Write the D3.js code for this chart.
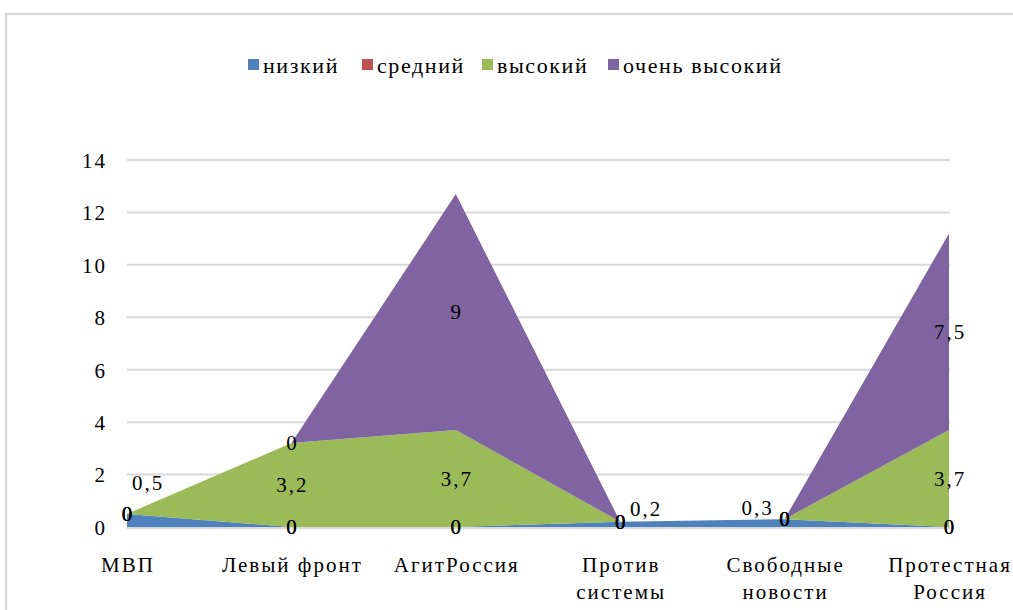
<!DOCTYPE html>
<html>
<head>
<meta charset="utf-8">
<script src="https://cdn.jsdelivr.net/npm/d3@7"></script>
<style>
  body { margin: 0; background: #fff; }
</style>
</head>
<body>
<svg id="chart" width="1013" height="610"></svg>
<script>
// Categories (multi-line labels split by "|")
const categories = ["МВП", "Левый фронт", "АгитРоссия", "Против|системы", "Свободные|новости", "Протестная|Россия"];
const seriesNames = ["низкий", "средний", "высокий", "очень высокий"];
const seriesColors = ["#4F81BD", "#C0504D", "#9BBB59", "#8064A2"];

const low = [0.5, 0, 0, 0.2, 0.3, 0];
const mid = [0, 0, 0, 0, 0, 0];
const high = [0, 3.2, 3.7, 0, 0, 3.7];
const veryHigh = [0, 0, 9, 0, 0, 7.5];
const seriesValues = [low, mid, high, veryHigh];

const yTicks = [0, 2, 4, 6, 8, 10, 12, 14];

const FONT = "Liberation Serif";
const FSIZE = 21;
const SPACING = 2;

// Build table for the stack
const table = categories.map((c, i) => {
  let row = { cat: c };
  seriesNames.forEach((s, k) => row[s] = seriesValues[k][i]);
  return row;
});

const svg = d3.select("#chart");

// Outer chart border (cropped at right/bottom)
svg.append("rect")
  .attr("x", 6).attr("y", 14)
  .attr("width", 1020).attr("height", 620)
  .attr("fill", "none")
  .attr("stroke", "#d9d9d9")
  .attr("stroke-width", 2.5);

const x = d3.scalePoint()
  .domain(categories)
  .range([127, 949])
  .padding(0);

const y = d3.scaleLinear()
  .domain([0, 14])
  .range([527, 160]);

// Gridlines
svg.append("g")
  .selectAll("line")
  .data(yTicks)
  .join("line")
    .attr("x1", 127).attr("x2", 950)
    .attr("y1", d => y(d)).attr("y2", d => y(d))
    .attr("stroke", "#d9d9d9")
    .attr("stroke-width", 2);

// Y axis labels
const yAxis = svg.append("g")
  .attr("transform", "translate(107,0)")
  .call(d3.axisLeft(y).tickValues(yTicks).tickSize(0).tickPadding(0));
yAxis.select(".domain").remove();
yAxis.attr("font-family", FONT).attr("font-size", FSIZE);
yAxis.selectAll("text")
  .attr("fill", "#000")
  .attr("letter-spacing", SPACING)
  .attr("dy", "0.35em");

// Stacked areas
const stack = d3.stack().keys(seriesNames);
const layers = stack(table);

const area = d3.area()
  .x(d => x(d.data.cat))
  .y0(d => y(d[0]))
  .y1(d => y(d[1]));

svg.append("g")
  .selectAll("path")
  .data(layers)
  .join("path")
    .attr("d", area)
    .attr("fill", (d, i) => seriesColors[i]);

// Baseline
svg.append("line")
  .attr("x1", 127).attr("x2", 950)
  .attr("y1", y(0) + 1).attr("y2", y(0) + 1)
  .attr("stroke", "#d9d9d9")
  .attr("stroke-width", 2);

// Manually moved labels (series index|category index -> [dx, dy])
const labelShift = {
  "0|0": [20, -38],
  "0|3": [25, -16],
  "0|4": [-28, -15]
};

const fmt = v => String(v).replace(".", ",");
const labelData = [];
layers.forEach((layer, si) => {
  layer.forEach((d, ci) => {
    const sh = labelShift[`${si}|${ci}`] || [0, 0];
    labelData.push({
      x: x(d.data.cat) + sh[0] + SPACING / 2,
      y: y((d[0] + d[1]) / 2) + sh[1],
      text: fmt(seriesValues[si][ci])
    });
  });
});

svg.append("g")
  .attr("text-anchor", "middle")
  .attr("font-family", FONT)
  .attr("font-size", FSIZE)
  .attr("letter-spacing", SPACING)
  .selectAll("text")
  .data(labelData)
  .join("text")
    .attr("x", d => d.x)
    .attr("y", d => d.y)
    .attr("dy", "0.35em")
    .text(d => d.text);

// Category labels
const catG = svg.append("g")
  .attr("font-family", FONT)
  .attr("font-size", FSIZE)
  .attr("letter-spacing", SPACING)
  .attr("text-anchor", "middle");
catG.selectAll("text")
  .data(categories)
  .join("text")
    .attr("y", 572)
    .each(function(d) {
      const parts = d.split("|");
      d3.select(this).selectAll("tspan")
        .data(parts)
        .join("tspan")
          .attr("x", x(d) + SPACING / 2)
          .attr("dy", (p, i) => i === 0 ? 0 : 27)
          .text(p => p);
    });

// Legend
const legendPos = [248, 362, 482, 608];
const legend = svg.append("g")
  .attr("font-family", FONT)
  .attr("font-size", 22)
  .attr("letter-spacing", 1.6);
seriesNames.forEach((s, i) => {
  legend.append("rect")
    .attr("x", legendPos[i]).attr("y", 59)
    .attr("width", 11).attr("height", 11)
    .attr("fill", seriesColors[i]);
  legend.append("text")
    .attr("x", legendPos[i] + 15)
    .attr("y", 73)
    .text(s);
});
</script>
</body>
</html>
